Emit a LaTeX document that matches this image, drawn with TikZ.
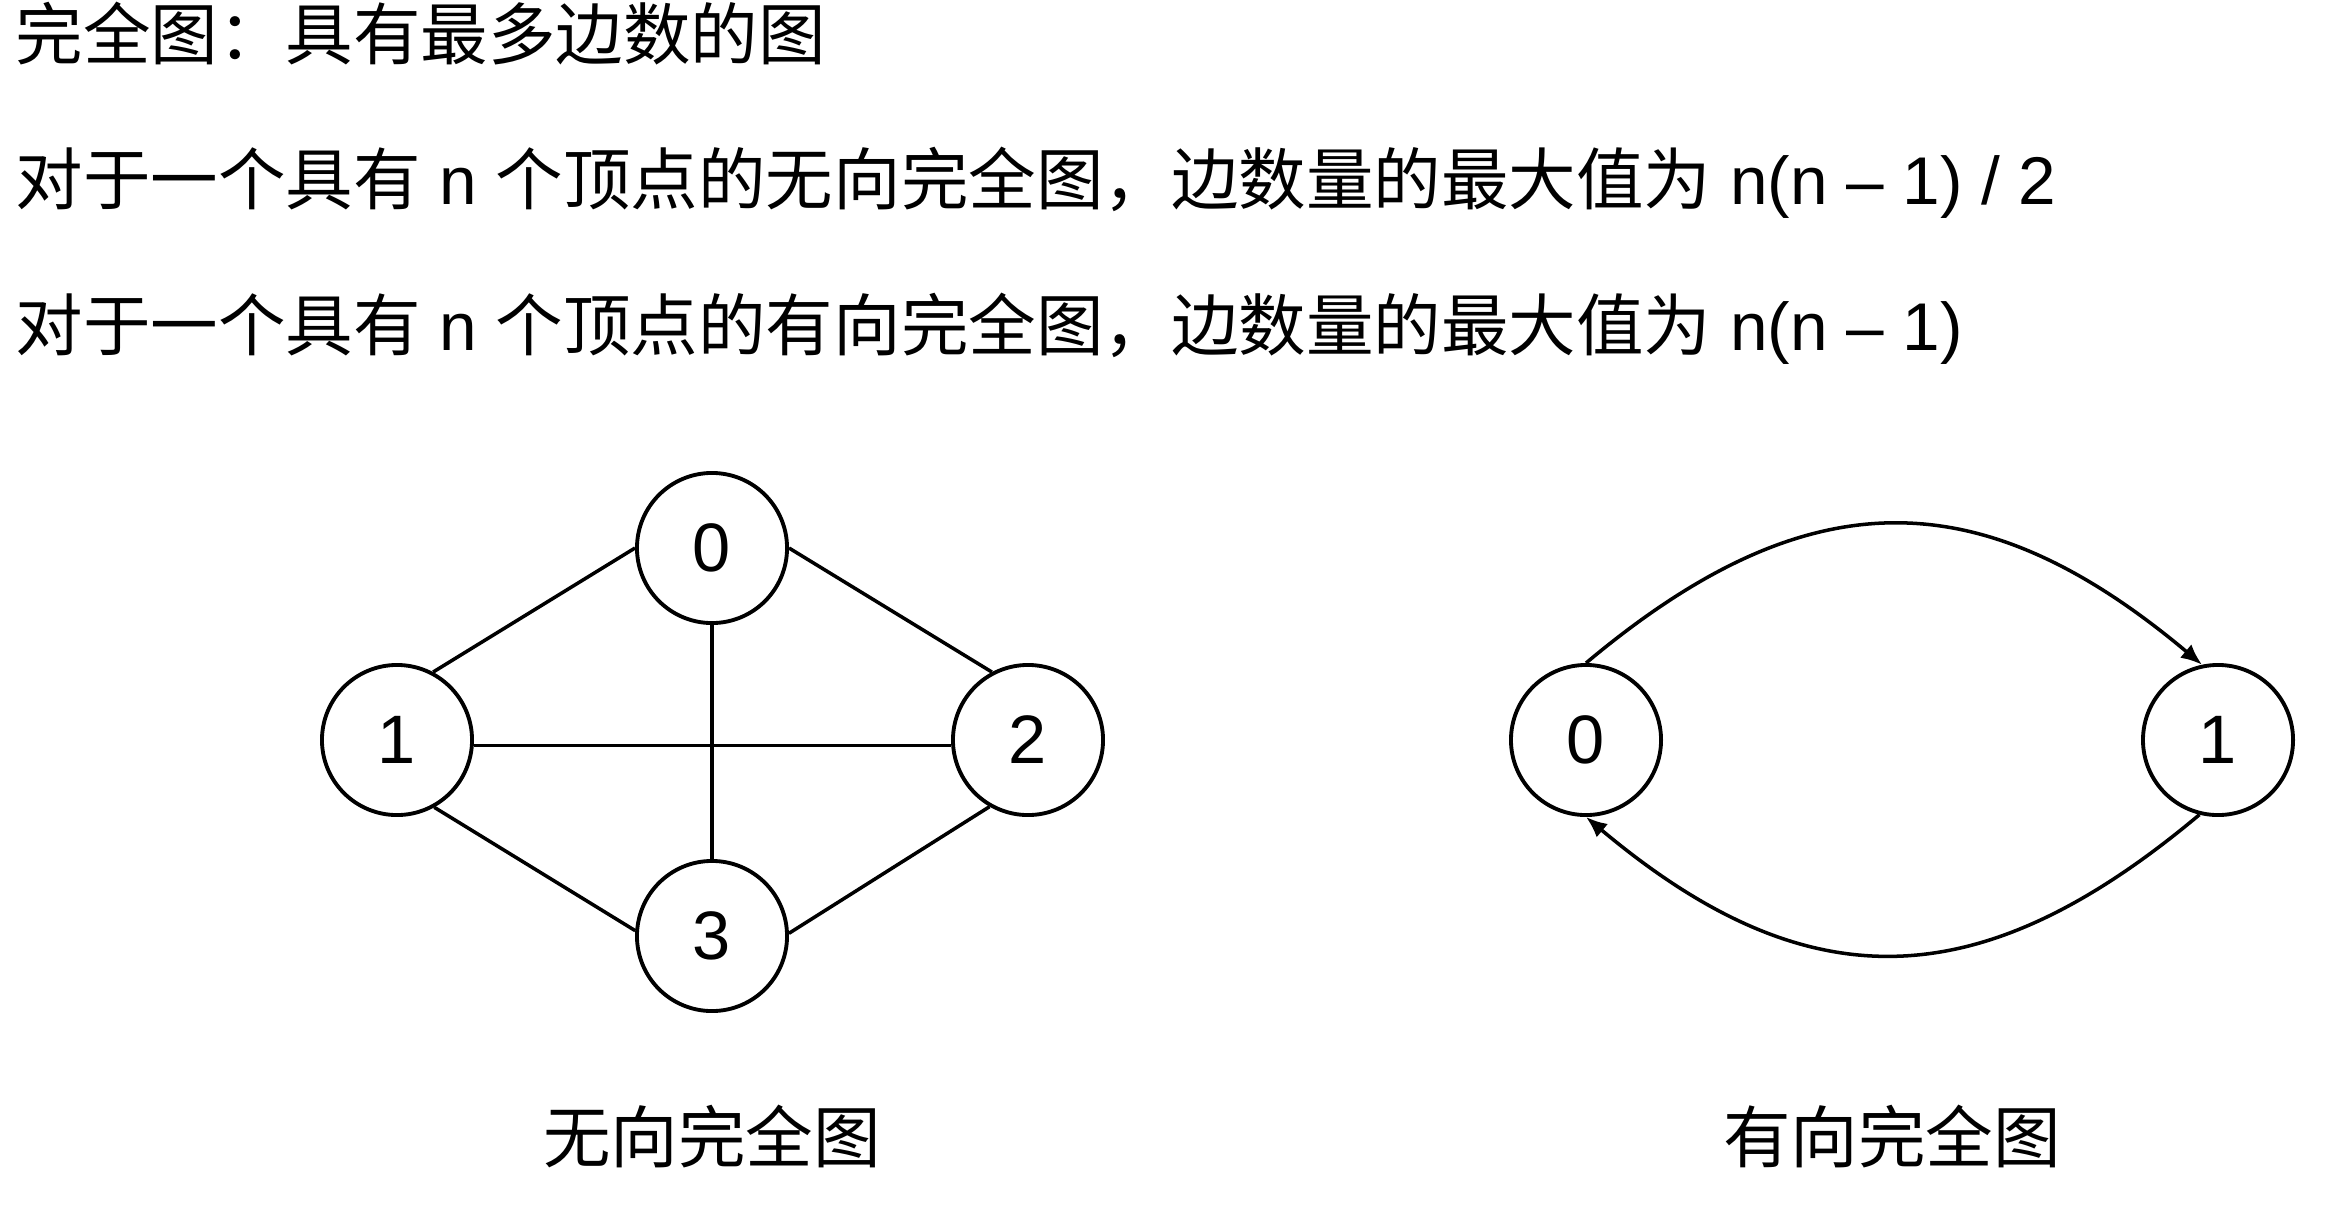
\documentclass[tikz,border=0pt]{standalone}
\usepackage{fontspec}
\setmainfont{Liberation Sans}
\newfontfamily\cjk{Noto Sans CJK SC}
\usetikzlibrary{arrows.meta}

\tikzset{
  vertex/.style={circle, draw, line width=1.1pt, minimum size=1.5cm, inner sep=0pt,
    font=\fontsize{19.5pt}{23pt}\selectfont},
  link/.style={line width=1pt},
  dirlink/.style={line width=1pt, -{Latex[length=6pt,width=5pt]}, looseness=1.2},
  txt/.style={anchor=base west, inner sep=0pt, font=\fontsize{19.2pt}{23pt}\selectfont},
  capt/.style={anchor=base, inner sep=0pt, font=\fontsize{19.2pt}{23pt}\selectfont\cjk}
}

\begin{document}
\begin{tikzpicture}[x=0.01cm, y=-0.01cm]
\useasboundingbox (0,0) rectangle (2340,1206);

% Heading lines
\node[txt] (head) at (15,59) {\cjk 完全图：具有最多边数的图};
\node[txt] (undir) at (15,204) {{\cjk 对于一个具有} n {\cjk 个顶点的无向完全图，边数量的最大值为} n(n – 1) / 2};
\node[txt] (dir) at (15,350) {{\cjk 对于一个具有} n {\cjk 个顶点的有向完全图，边数量的最大值为} n(n – 1)};

% Undirected complete graph
\foreach \n/\x/\y in {0/712/548, 1/397/740, 2/1028/740, 3/712/936} {
    \node[vertex] (u\n) at (\x,\y) {\n};
}
\foreach \a/\b in {u1.62/u0.180, u0.0/u2.118, u1.-4/u2.184, u0.south/u3.north,
                   u1.-61/u3.176, u2.-120/u3.2} {
    \draw[link] (\a) -- (\b);
}
\node[capt] (ucapt) at (712,1162) {无向完全图};

% Directed complete graph
\node[vertex] (d0) at (1586,740) {0};
\node[vertex] (d1) at (2218,740) {1};
\draw[dirlink] (d0.north) to[out=40, in=140] (d1.102);
\draw[dirlink] (d1.-104) to[out=-140, in=-40] (d0.south);
\node[capt] (dcapt) at (1892,1162) {有向完全图};
\end{tikzpicture}
\end{document}
